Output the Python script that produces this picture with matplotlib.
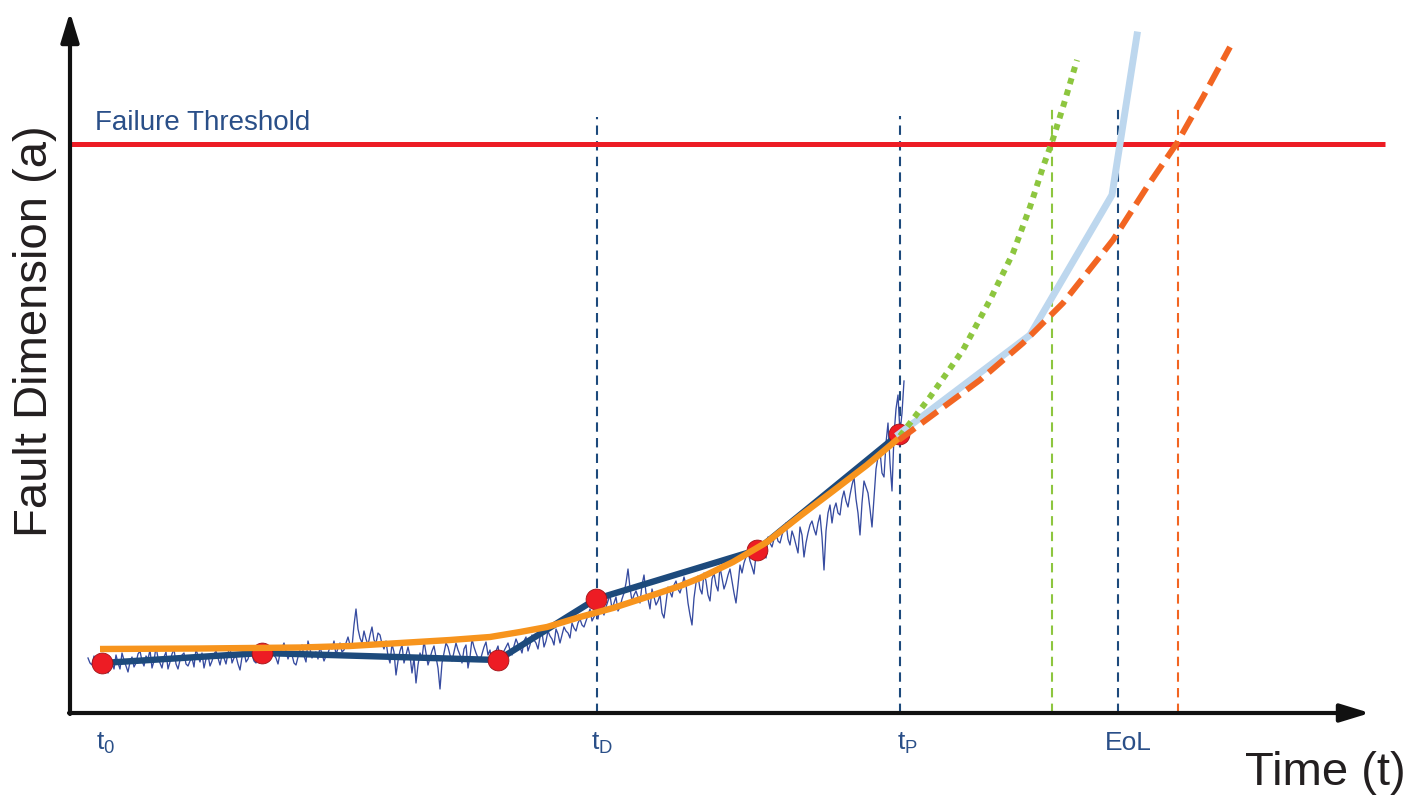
import numpy as np
import matplotlib
matplotlib.use("Agg")
import matplotlib.pyplot as plt

plt.rcParams["font.family"] = ["Liberation Sans", "DejaVu Sans"]
plt.rcParams["mathtext.fontset"] = "custom"
plt.rcParams["mathtext.rm"] = "Liberation Sans"
plt.rcParams["mathtext.it"] = "Liberation Sans:italic"

# ---- measured fault signal (sampled every 2 time units from t=18) ----
signal_t0 = 18
signal_step = 2
signal_a = [
    55, 50, 48, 57, 44, 49, 52, 58, 46, 53, 40, 47, 50, 44, 58, 50, 44, 60, 53, 47,
    41, 51, 56, 46, 50, 59, 62, 52, 47, 57, 54, 63, 45, 52, 66, 55, 50, 45, 56, 61,
    44, 51, 59, 64, 49, 44, 53, 58, 60, 49, 47, 52, 55, 46, 64, 57, 51, 60, 45, 54,
    58, 47, 52, 59, 62, 55, 48, 58, 55, 49, 60, 66, 50, 55, 57, 49, 43, 56, 62, 51,
    54, 61, 58, 52, 50, 56, 59, 53,
    62, 57, 52, 61, 66, 58, 55, 49, 60, 65, 70, 62, 54, 60, 58, 50, 48, 56, 63, 68,
    57, 51, 72, 64, 55, 60, 61, 54, 66, 59, 52, 57, 60, 66,
    64, 72, 58, 65, 70, 61, 63, 70, 76, 68, 66, 88, 104, 84, 75, 70, 82, 74, 68, 78,
    86, 73, 70, 80, 78, 69,
    64, 72, 57, 50, 69, 61, 38, 52, 62, 68, 50, 58, 66, 57, 40, 55, 30, 48, 60, 54,
    72, 60, 48, 55, 62, 67, 56, 45, 24, 50, 60, 70, 66, 58, 52, 61, 70, 63, 58, 50,
    64, 68, 45, 56, 74, 66, 60, 55, 52, 59, 66, 71, 58, 63, 48, 55, 62, 67, 54, 60,
    62, 66, 70, 63, 58, 67, 74, 69, 66, 60, 72, 76, 62, 68, 78, 73, 70, 64, 76, 81,
    66, 72, 82, 77, 74, 68, 84, 79, 70, 78, 86, 82, 80, 75, 90, 85, 82, 90, 94, 88,
    86, 92, 98, 104, 92, 96,
    100, 94, 108, 103, 98, 106, 112, 118, 104, 110, 116, 102, 106, 114, 120, 130,
    144, 125, 112, 118, 122, 116, 110, 128, 138, 120, 114, 104, 124, 116, 108, 112,
    118, 100,
    95, 110, 126, 121, 116, 128, 132, 124, 120, 127, 136, 128, 110, 98, 88, 115,
    130, 137, 124, 119, 140, 132, 118, 112, 134, 140, 128, 122, 146, 135, 124, 130,
    138, 144, 132, 120, 110, 128, 148, 140,
    150, 156, 162, 152, 146, 139, 158, 165, 170, 163, 160, 155, 176, 170, 166, 174,
    180, 172, 170, 178, 184, 190, 174, 168, 182, 176, 168, 160, 186, 178,
    156, 170, 180, 188, 192, 184, 178, 190, 198, 176, 143, 182, 200, 208, 190, 204,
    210, 200, 198, 214, 222, 212, 206, 218, 228, 236, 214, 200, 178, 210, 232, 226,
    220, 204,
    186, 215, 244, 256, 262, 240, 236, 270, 290, 250, 222, 278, 304, 318, 280, 300,
    332,
]
assert len(signal_a) == 409, len(signal_a)

# ---- inspection points (piecewise trend) ----
insp_t = [32, 192, 428, 526, 687, 829]
insp_a = [50, 60, 53, 114, 163, 279]

# ---- fitted degradation model ----
fit_t = [30, 130, 230, 280, 330, 380, 420, 450, 477, 510, 543, 580, 610, 630,
         663, 697, 730, 763, 797, 829]
fit_a = [64, 64.5, 65.5, 67, 70, 73, 76, 81, 86, 96, 105, 117, 127, 135,
         151, 171, 197, 222, 248, 275]

# ---- prognostic projections from t_P ----
prog_green_t = [830, 860, 893, 920, 943, 960, 973, 982, 993, 1007]
prog_green_a = [277, 316, 363, 413, 460, 506, 546, 571, 606, 653]
prog_blue_t = [829, 960, 1042, 1067]
prog_blue_a = [279, 378, 518, 678]
prog_orange_t = [829, 860, 910, 953, 993, 1043, 1077, 1107, 1133, 1160]
prog_orange_a = [273, 296, 333, 370, 410, 473, 526, 570, 616, 666]

# ---- threshold and event times ----
threshold = 569
t_D, t_P = 527, 830
eol_green, eol_blue, eol_orange = 982, 1048, 1108
event_top = {t_D: 596, t_P: 597, eol_green: 607, eol_blue: 607, eol_orange: 608}

tick_labels = [r"$\mathregular{t_0}$", r"$\mathregular{t_D}$", r"$\mathregular{t_P}$", "EoL"]
tick_pos = [36, 532, 837, 1058]

NAVY = "#1d4a7c"
LABEL_BLUE = "#2a4f88"
ORANGE = "#f7941d"
RED = "#ed1c24"
GREEN = "#8dc63f"
LIGHT_BLUE = "#bdd7ee"
DASH_ORANGE = "#f26522"

fig = plt.figure(figsize=(14.1, 7.96), dpi=100)
ax = fig.add_axes([0, 0, 1, 1])
ax.set_xlim(-70, 1340)
ax.set_ylim(-83, 713)
ax.axis("off")

# vertical event markers
for tv, col in [(t_D, NAVY), (t_P, NAVY), (eol_green, GREEN),
                (eol_blue, NAVY), (eol_orange, DASH_ORANGE)]:
    ax.plot([tv, tv], [0, event_top[tv]], color=col, lw=1.5,
            linestyle=(0, (4.5, 3.0)), zorder=2)

# failure threshold
ax.plot([0, 1315], [threshold, threshold], color=RED, lw=3.6, zorder=3,
        solid_capstyle="butt")
ax.text(25, 583, "Failure Threshold", color=LABEL_BLUE, fontsize=20,
        ha="left", va="baseline")

# noisy measurement
sig_t = signal_t0 + signal_step * np.arange(len(signal_a))
ax.plot(sig_t, signal_a, color="#364ba0", lw=0.95, zorder=4)

# inspection trend and points
ax.plot(insp_t, insp_a, color=NAVY, lw=4.6, zorder=5, solid_joinstyle="round")
ax.plot(insp_t, insp_a, "o", ms=15, color=RED, mec="#a01418", mew=0.6, zorder=6)

# fitted model
ax.plot(fit_t, fit_a, color=ORANGE, lw=4.6, zorder=7, solid_joinstyle="round",
        solid_capstyle="butt")

# projections
ax.plot(prog_blue_t, prog_blue_a, color=LIGHT_BLUE, lw=5, zorder=8,
        solid_joinstyle="miter")
ax.plot(prog_green_t, prog_green_a, color=GREEN, lw=4.3,
        linestyle=(0, (1, 1)), zorder=9)
ax.plot(prog_orange_t, prog_orange_a, color=DASH_ORANGE, lw=4.3,
        linestyle=(0, (3.3, 1.4)), zorder=10)

# axes with arrow heads
arrow_kw = dict(arrowstyle="-|>,head_length=1.8,head_width=0.55",
                color="#111111", lw=3, mutation_scale=10, shrinkA=0, shrinkB=0)
ax.annotate("", xy=(1300, 0), xytext=(-1, 0), arrowprops=arrow_kw, zorder=11)
ax.annotate("", xy=(0, 701), xytext=(0, -1), arrowprops=arrow_kw, zorder=11)

# time labels
for lbl, tp in zip(tick_labels, tick_pos):
    ax.text(tp, -30, lbl, color=LABEL_BLUE, fontsize=19, ha="center", va="center")

ax.text(1175, -60, "Time (t)", color="#231f20", fontsize=34, ha="left", va="center")
ax.text(-35, 382, "Fault Dimension (a)", color="#231f20", fontsize=34,
        rotation=90, ha="center", va="center")

fig.savefig("out.png", dpi=100)
